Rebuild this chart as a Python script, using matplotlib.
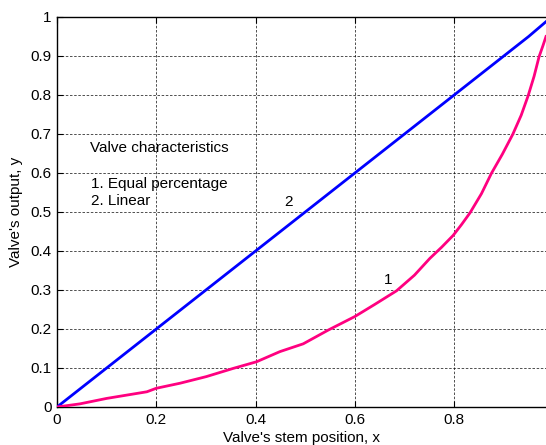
import matplotlib
matplotlib.use("Agg")
import matplotlib.pyplot as plt

# Equal percentage characteristic (curve 1)
eq_x = [0.0, 0.046, 0.10, 0.181, 0.20, 0.248, 0.301, 0.355, 0.402, 0.449, 0.496,
        0.546, 0.600, 0.640, 0.684, 0.720, 0.751, 0.775, 0.798, 0.815, 0.832, 0.855,
        0.875, 0.897, 0.918, 0.935, 0.949, 0.961, 0.971, 0.979, 0.985]
eq_y = [0.0, 0.008, 0.022, 0.039, 0.048, 0.061, 0.078, 0.099, 0.116, 0.142, 0.162,
        0.197, 0.232, 0.263, 0.298, 0.338, 0.381, 0.410, 0.440, 0.468, 0.498, 0.547,
        0.599, 0.648, 0.699, 0.748, 0.798, 0.848, 0.898, 0.927, 0.950]

# Linear characteristic (curve 2)
lin_x = [0.0, 0.05, 0.10, 0.15, 0.20, 0.25, 0.30, 0.35, 0.40, 0.45, 0.50,
         0.55, 0.60, 0.65, 0.70, 0.75, 0.80, 0.85, 0.90, 0.95, 0.985]
lin_y = [0.0, 0.05, 0.10, 0.15, 0.20, 0.25, 0.30, 0.35, 0.40, 0.45, 0.50,
         0.55, 0.60, 0.65, 0.70, 0.75, 0.80, 0.85, 0.90, 0.95, 0.988]

x_ticks = [0, 0.2, 0.4, 0.6, 0.8]
x_ticklabels = ["0", "0.2", "0.4", "0.6", "0.8"]
y_ticks = [0, 0.1, 0.2, 0.3, 0.4, 0.5, 0.6, 0.7, 0.8, 0.9, 1.0]
y_ticklabels = ["0", "0.1", "0.2", "0.3", "0.4", "0.5", "0.6", "0.7", "0.8", "0.9", "1"]

plt.rcParams['font.family'] = ['Liberation Sans', 'DejaVu Sans']
FS = 11

fig = plt.figure(figsize=(5.46, 4.45), dpi=100)
ax = fig.add_axes([0.1044, 0.0854, 1.0 - 0.1044, 0.9618 - 0.0854])

ax.plot(lin_x, lin_y, color='#0000ff', lw=2.0, zorder=3)
ax.plot(eq_x, eq_y, color='#ff0080', lw=2.0, zorder=3)

ax.set_xlim(0, 0.985)
ax.set_ylim(0, 1)
ax.set_xticks(x_ticks)
ax.set_xticklabels(x_ticklabels)
ax.set_yticks(y_ticks)
ax.set_yticklabels(y_ticklabels)
ax.tick_params(direction='in', length=4, width=0.8, labelsize=FS, pad=4,
               top=True, right=False, colors='black')
ax.grid(True, color='black', linestyle=(0, (3, 2)), linewidth=0.6, alpha=0.8)
ax.spines['right'].set_visible(False)
for s in ['left', 'top', 'bottom']:
    ax.spines[s].set_linewidth(1.0)

ax.set_xlabel("Valve's stem position, x", fontsize=FS, labelpad=3)
ax.set_ylabel("Valve's output, y", fontsize=FS, labelpad=5)

ax.text(0.066, 0.664, "Valve characteristics", fontsize=FS, va='center', ha='left')
ax.text(0.068, 0.572, "1. Equal percentage", fontsize=FS, va='center', ha='left')
ax.text(0.068, 0.528, "2. Linear", fontsize=FS, va='center', ha='left')
ax.text(0.467, 0.526, "2", fontsize=FS, va='center', ha='center')
ax.text(0.667, 0.326, "1", fontsize=FS, va='center', ha='center')

fig.savefig("out.png", dpi=100)
